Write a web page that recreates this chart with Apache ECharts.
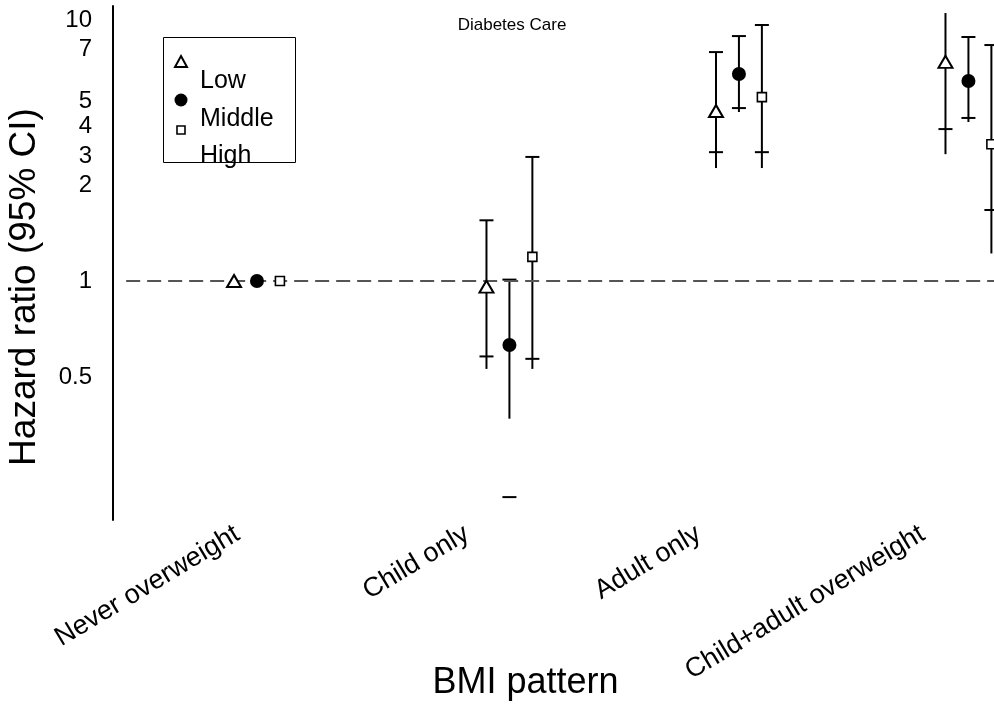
<!DOCTYPE html>
<html>
<head>
<meta charset="utf-8">
<script src="https://cdn.jsdelivr.net/npm/echarts@6/dist/echarts.min.js"></script>
<style>
  html, body { margin: 0; padding: 0; background: #fff; }
  #chart { width: 994px; height: 719px; }
</style>
</head>
<body>
<div id="chart"></div>
<script>
// BMI pattern categories and where their labels sit on the x scale
const categories = ['Never overweight', 'Child only', 'Adult only', 'Child+adult overweight'];
const categoryLabelPos = [0.965, 1.965, 2.975, 3.95];
// centre of each cluster of three markers, and the offset of each level within it
const groupCenter = [1.05, 2.15, 3.15, 4.15];
const levels = ['Low', 'Middle', 'High'];
const levelOffset = [-0.1, 0, 0.1];

// Hazard ratio tick labels and their position on the (stretched log) axis scale
const tickValues = [0.5, 1, 2, 3, 4, 5, 7, 10];
const tickLabels = ['0.5', '1', '2', '3', '4', '5', '7', '10'];
const tickScalePos = [-1, 0, 1, 1.3, 1.61, 1.875, 2.41, 2.72];

// Low
const estLow   = [1.0, 0.96, 4.58, 6.46];
const ciLoLow  = [null, 0.58, 3.12, 3.90];
const ciHiLow  = [null, 1.55, 6.89, null];
const barLoLow = [null, 0.53, 2.54, 3.06];
const barHiLow = [null, 1.55, 6.89, 10.86];

// Middle
const estMid   = [1.0, 0.63, 5.97, 5.70];
const ciLoMid  = [null, 0.21, 4.70, 4.31];
const ciHiMid  = [null, 1.01, 8.24, 8.15];
const barLoMid = [null, 0.37, 4.54, 4.16];
const barHiMid = [null, 1.01, 8.24, 8.15];

// High
const estHigh   = [1.0, 1.19, 5.13, 3.37];
const ciLoHigh  = [null, 0.57, 3.12, 1.67];
const ciHiHigh  = [null, 2.97, 9.41, 7.40];
const barLoHigh = [null, 0.53, 2.54, 1.22];
const barHiHigh = [null, 2.97, 9.41, 7.40];

const referenceHR = 1;
const referenceLineFrom = 0.48;

const X_MIN = 0.4227, X_MAX = 4.2614;
const Y_MIN = -2.49, Y_MAX = 2.865;

// piecewise log mapping of a hazard ratio onto the axis scale
const logTicks = tickValues.map(Math.log);
function toAxis(v) {
  if (v == null) return null;
  const lv = Math.log(v);
  let i = 0;
  if (lv >= logTicks[logTicks.length - 1]) i = logTicks.length - 2;
  else if (lv > logTicks[0]) { while (lv > logTicks[i + 1]) i++; }
  const t = (lv - logTicks[i]) / (logTicks[i + 1] - logTicks[i]);
  return tickScalePos[i] + t * (tickScalePos[i + 1] - tickScalePos[i]);
}
function labelFor(pos, positions, labels) {
  let best = 0;
  positions.forEach((p, i) => { if (Math.abs(p - pos) < Math.abs(positions[best] - pos)) best = i; });
  return labels[best];
}

const levelData = [
  { est: estLow,  ciLo: ciLoLow,  ciHi: ciHiLow,  barLo: barLoLow,  barHi: barHiLow },
  { est: estMid,  ciLo: ciLoMid,  ciHi: ciHiMid,  barLo: barLoMid,  barHi: barHiMid },
  { est: estHigh, ciLo: ciLoHigh, ciHi: ciHiHigh, barLo: barLoHigh, barHi: barHiHigh }
];

const symbols = [
  { symbol: 'triangle', symbolSize: [14, 12], itemStyle: { color: '#fff', borderColor: '#000', borderWidth: 2, opacity: 1 } },
  { symbol: 'circle', symbolSize: 14, itemStyle: { color: '#000', borderColor: '#000', borderWidth: 0, opacity: 1 } },
  { symbol: 'rect', symbolSize: 9, itemStyle: { color: '#fff', borderColor: '#000', borderWidth: 1.6, opacity: 1 } }
];

const FONT = '"Liberation Sans", Arial, sans-serif';
const CAP_HALF = 7;

function isNum(v) { return v != null && !isNaN(v); }

function renderInterval(params, api) {
  const x = api.value(0);
  const children = [];
  const lo = api.value(1), hi = api.value(2);
  if (isNum(lo) && isNum(hi)) {
    const a = api.coord([x, lo]), b = api.coord([x, hi]);
    children.push({ type: 'line', shape: { x1: a[0], y1: a[1], x2: b[0], y2: b[1] },
      style: { stroke: '#000', lineWidth: 2 } });
  }
  [api.value(3), api.value(4)].forEach(c => {
    if (isNum(c)) {
      const p = api.coord([x, c]);
      children.push({ type: 'line', shape: { x1: p[0] - CAP_HALF, y1: p[1], x2: p[0] + CAP_HALF, y2: p[1] },
        style: { stroke: '#000', lineWidth: 2 } });
    }
  });
  return { type: 'group', children };
}

const series = [];
levelData.forEach((d, k) => {
  const rows = [];
  d.est.forEach((_, i) => {
    if (d.barLo[i] == null && d.ciLo[i] == null && d.ciHi[i] == null) return;
    rows.push([groupCenter[i] + levelOffset[k], toAxis(d.barLo[i]), toAxis(d.barHi[i]),
      toAxis(d.ciLo[i]), toAxis(d.ciHi[i])]);
  });
  series.push({
    name: levels[k] + ' CI', type: 'custom', renderItem: renderInterval, data: rows, z: 3,
    clip: false, silent: true
  });
});
levelData.forEach((d, k) => {
  series.push(Object.assign({
    name: levels[k], type: 'scatter', z: 5, silent: true,
    data: d.est.map((v, i) => [groupCenter[i] + levelOffset[k], toAxis(v)])
  }, symbols[k]));
});
// dashed reference line at HR = 1
series.push({
  type: 'line', data: [], silent: true, z: 1,
  markLine: {
    symbol: 'none', silent: true, label: { show: false },
    lineStyle: { color: '#555', width: 2, type: [14, 7], opacity: 1 },
    data: [[{ coord: [referenceLineFrom, toAxis(referenceHR)] }, { coord: [X_MAX, toAxis(referenceHR)] }]]
  }
});

const chart = echarts.init(document.getElementById('chart'));
chart.setOption({
  animation: false,
  backgroundColor: '#fff',
  textStyle: { fontFamily: FONT },
  title: {
    text: 'Diabetes Care', left: 507, top: 12, textAlign: 'center',
    textStyle: { fontFamily: FONT, fontSize: 17, fontWeight: 'normal', color: '#000' }
  },
  grid: { left: 113, right: 0, top: 6, bottom: 199, containLabel: false, outerBoundsMode: 'none' },
  xAxis: {
    type: 'value', min: X_MIN, max: X_MAX,
    name: 'BMI pattern', nameLocation: 'middle', nameGap: 145, nameMoveOverlap: false,
    nameTextStyle: { fontFamily: FONT, fontSize: 36, color: '#000', padding: [0, 56, 0, 0] },
    axisLine: { show: false }, axisTick: { show: false }, splitLine: { show: false },
    axisLabel: {
      customValues: categoryLabelPos, rotate: 31, margin: 12,
      fontFamily: FONT, fontSize: 27, color: '#000',
      formatter: v => labelFor(v, categoryLabelPos, categories)
    }
  },
  yAxis: {
    type: 'value', min: Y_MIN, max: Y_MAX,
    name: 'Hazard ratio (95% CI)', nameLocation: 'middle', nameGap: 70, nameMoveOverlap: false,
    nameTextStyle: { fontFamily: FONT, fontSize: 37, color: '#000', padding: [0, 48, 0, 0] },
    axisLine: { show: true, lineStyle: { color: '#000', width: 2 } },
    axisTick: { show: false }, splitLine: { show: false },
    axisLabel: {
      customValues: tickValues.map(toAxis), margin: 21,
      fontFamily: FONT, fontSize: 24, color: '#000',
      formatter: v => labelFor(v, tickValues.map(toAxis), tickLabels)
    }
  },
  graphic: [
    { type: 'rect', shape: { x: 163.5, y: 37.5, width: 132, height: 125 },
      style: { fill: 'none', stroke: '#000', lineWidth: 1 }, z: 10 },
    { type: 'polygon', shape: { points: [[181, 56], [187, 67], [175, 67]] },
      style: { fill: '#fff', stroke: '#000', lineWidth: 2 }, z: 11 },
    { type: 'circle', shape: { cx: 181, cy: 100, r: 6.5 }, style: { fill: '#000' }, z: 11 },
    { type: 'rect', shape: { x: 177, y: 126, width: 8, height: 8 },
      style: { fill: '#fff', stroke: '#000', lineWidth: 1.6 }, z: 11 },
    { type: 'text', x: 200, y: 81, z: 11,
      style: { text: 'Low', font: '25px ' + FONT, fill: '#000', verticalAlign: 'middle' } },
    { type: 'text', x: 200, y: 119, z: 11,
      style: { text: 'Middle', font: '25px ' + FONT, fill: '#000', verticalAlign: 'middle' } },
    { type: 'text', x: 200, y: 156, z: 9,
      style: { text: 'High', font: '25px ' + FONT, fill: '#000', verticalAlign: 'middle' } }
  ],
  series
});
</script>
</body>
</html>
